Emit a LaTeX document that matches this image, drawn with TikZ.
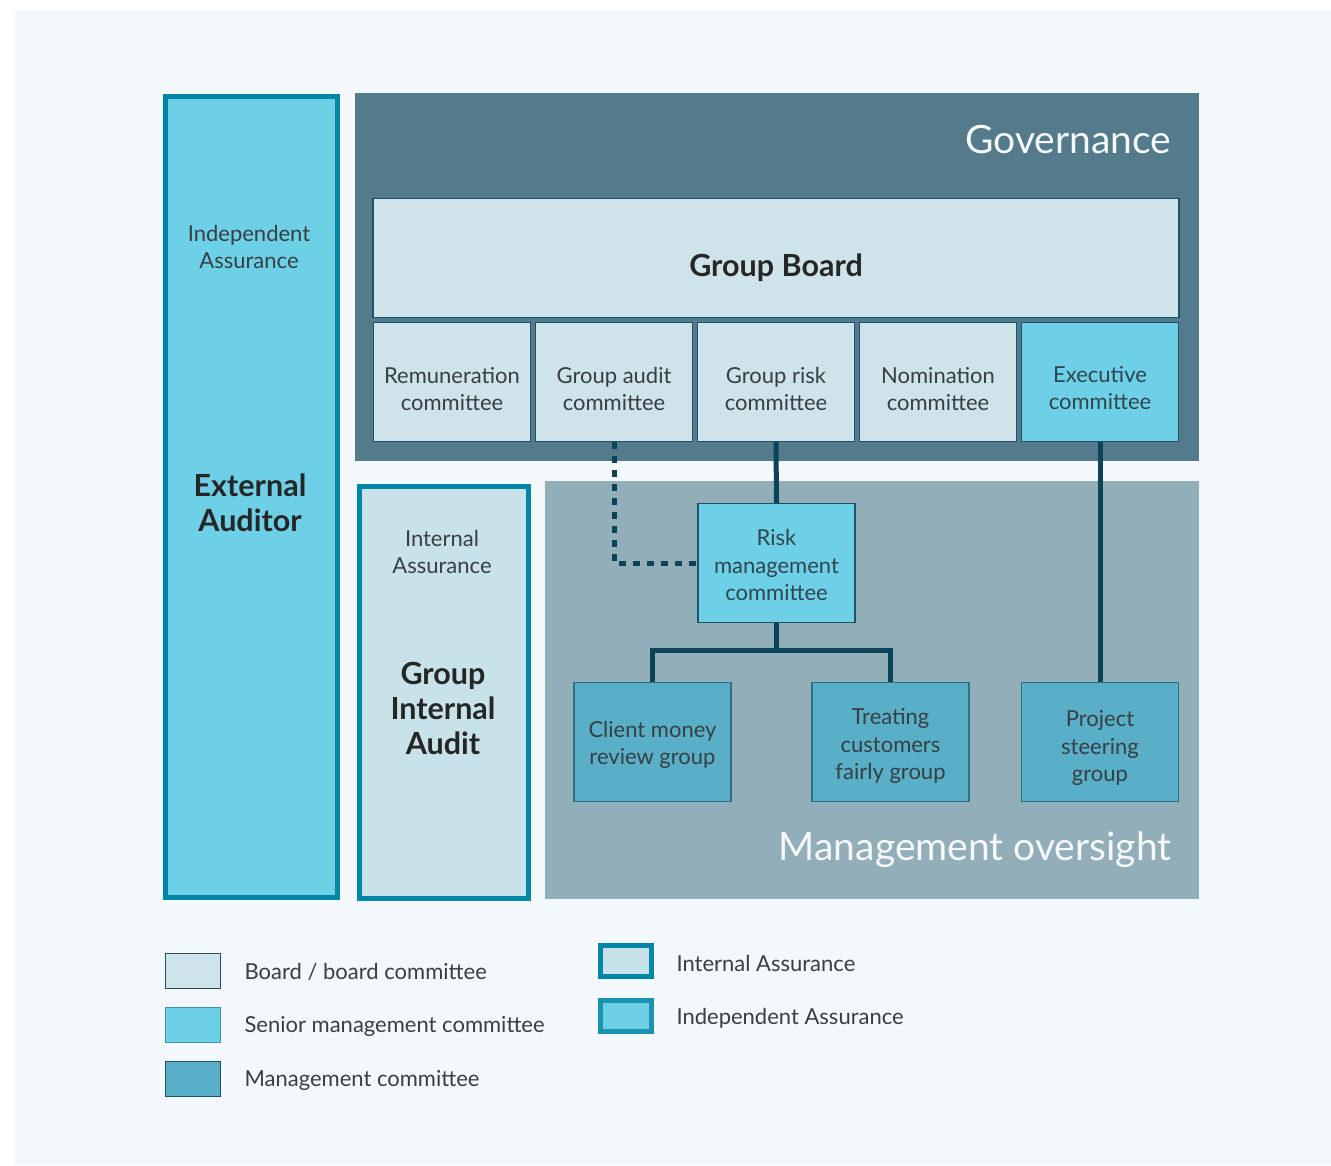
\documentclass[tikz,border=0pt]{standalone}
\usepackage{fontspec}
\setmainfont{Lato}
\usepackage{xcolor}
\usetikzlibrary{positioning}

\definecolor{pagebg}{HTML}{F3F8FC}
\definecolor{govbg}{HTML}{537B8B}
\definecolor{mgmtbg}{HTML}{92AEB8}
\definecolor{boardfill}{HTML}{CFE3EA}
\definecolor{seniorfill}{HTML}{6DD0E7}
\definecolor{mgmtfill}{HTML}{58AFC7}
\definecolor{intfill}{HTML}{C8E2E9}
\definecolor{assureline}{HTML}{0087A7}
\definecolor{boxline}{HTML}{1F5268}
\definecolor{linkcol}{HTML}{0B4359}
\definecolor{txt}{HTML}{383F43}

\tikzset{
  body/.style={font=\fontsize{22}{27.5}\selectfont, text=txt, align=center},
  soft/.style={body, text=txt!70!boxline},
  box/.style={draw=boxline, line width=1.3pt, minimum width=157, minimum height=119},
  board/.style={box, fill=boardfill},
  senior/.style={box, fill=seniorfill},
  mgmt/.style={box, fill=mgmtfill, draw=boxline!70!mgmtfill},
  assurance/.style={draw=assureline, line width=5pt},
  heavy/.style={font=\fontsize{30.5}{35}\selectfont\bfseries, text=black!85, align=center},
  link/.style={draw=linkcol, line width=5pt},
  keybox/.style={draw=boxline, line width=1.3pt, minimum width=55, minimum height=35},
  keytext/.style={body, anchor=west},
  title/.style={font=\fontsize{39}{40}\selectfont, text=white!95!govbg, anchor=east}
}

\begin{document}
\begin{tikzpicture}[x=1pt, y=-1pt]
    \fill[white] (0,0) rectangle (1331,1165);
    \fill[pagebg] (15,10) rectangle (1331,1165);

    \node[assurance, fill=seniorfill, minimum width=172, minimum height=801] (ext) at (251.5,497) {};
    \node[body] (extind) at (249,247) {Independent\\Assurance};
    \node[heavy] (extname) at (250,503) {External\\Auditor};

    \fill[govbg] (355,93) rectangle (1199,461);
    \node[title] (gov) at (1175,140) {Governance};
    \fill[mgmtbg] (545,481) rectangle (1199,899);
    \node[title] (mo) at (1175,850) {Management oversight};

    \node[assurance, fill=intfill, minimum width=169, minimum height=412] (gia) at (443.5,692) {};
    \node[body] (giaind) at (442,552) {Internal\\Assurance};
    \node[heavy] (gianame) at (443,708) {Group\\Internal\\Audit};

    \node[board, minimum width=806] (gb) at (776,258) {};
    \node[heavy] (gbtext) at ([yshift=-10pt]gb.center) {Group Board};

    \node[board] (rem) at (452,382) {};
    \node[board] (gac) at (614,382) {};
    \node[board] (grc) at (776,382) {};
    \node[board] (nom) at (938,382) {};
    \node[senior] (exe) at (1100,382) {};
    \node[body] (remtext) at ([yshift=-7pt]rem.center) {Remuneration\\committee};
    \node[body] (gactext) at ([yshift=-7pt]gac.center) {Group audit\\committee};
    \node[body] (grctext) at ([yshift=-7pt]grc.center) {Group risk\\committee};
    \node[body] (nomtext) at ([yshift=-7pt]nom.center) {Nomination\\committee};
    \node[soft] (exetext) at ([yshift=-6pt]exe.center) {Executive\\committee};

    \node[senior] (rmc) at (776.5,563) {};
    \node[mgmt] (cmr) at (652.5,742) {};
    \node[mgmt] (tcf) at (890.5,742) {};
    \node[mgmt] (psg) at (1100,742) {};
    \node[soft] (rmctext) at ([yshift=-2pt]rmc.center) {Risk\\management\\committee};
    \node[body] (cmrtext) at ([yshift=-3pt]cmr.center) {Client money\\review group};
    \node[body] (tcftext) at ([yshift=-4pt]tcf.center) {Treating\\customers\\fairly group};
    \node[body] (psgtext) at ([yshift=-6pt]psg.center) {Project\\steering\\group};

    \draw[link] (grc.south) -- (rmc.north);
    \draw[link, dash pattern=on 7pt off 7pt] (gac.south) |- (rmc.west);
    \draw[link] (rmc.south) -- ++(0,27) -| (cmr.north);
    \draw[link] (rmc.south) -- ++(0,27) -| (tcf.north);
    \draw[link] (exe.south) -- (psg.north);

    \node[keybox, fill=boardfill] (k1) at (193,971) {};
    \node[keybox, fill=seniorfill, draw=boxline!50!seniorfill] (k2) at (193,1025) {};
    \node[keybox, fill=mgmtfill] (k3) at (193,1079) {};
    \node[keytext] (k1t) at (241,972) {Board / board committee};
    \node[keytext] (k2t) at (241,1026) {Senior management committee};
    \node[keytext] (k3t) at (241,1080) {Management committee};

    \node[keybox, fill=intfill, draw=assureline, line width=5pt, minimum width=51, minimum height=31] (k4) at (625.5,961) {};
    \node[keybox, fill=seniorfill, draw=assureline!90!white, line width=5pt, minimum width=51, minimum height=31] (k5) at (625.5,1015.5) {};
    \node[keytext] (k4t) at (673,963) {Internal Assurance};
    \node[keytext] (k5t) at (673,1018) {Independent Assurance};
\end{tikzpicture}
\end{document}
